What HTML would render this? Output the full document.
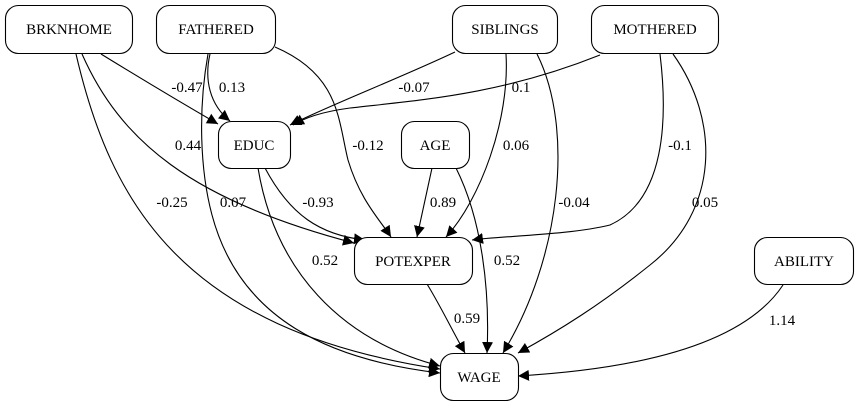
<!DOCTYPE html>
<html><head><meta charset="utf-8"><style>
html,body{margin:0;padding:0;background:#fff;}
svg{display:block}
.t{font-family:"Liberation Serif","Times New Roman",Times,"DejaVu Serif",serif;font-size:15px;}
</style></head><body>
<svg width="859" height="407" viewBox="0 0 859 407" xmlns="http://www.w3.org/2000/svg">
<defs><marker id="a" viewBox="0 0 10 10" refX="10" refY="5" markerWidth="11" markerHeight="11" markerUnits="userSpaceOnUse" orient="auto"><path d="M0,0L10,5L0,10z" fill="#000"/></marker></defs>
<g fill="none" stroke="#000" stroke-width="1.1" marker-end="url(#a)">
<path d="M101,54 C140,78 180,102 218,124"/>
<path d="M210,54 C204,80 210,105 230,121"/>
<path d="M82,54 C120,140 190,200 354,243"/>
<path d="M76,54 C110,200 180,330 440,369"/>
<path d="M208,54 C198,110 200,170 212,215 C240,320 330,360 440,373"/>
<path d="M275,47 C340,75 338,120 348,160 C360,200 380,220 391,237"/>
<path d="M455,52 C400,78 330,105 290,125"/>
<path d="M600,55 C500,95 420,100 350,108 C320,112 305,118 293,125"/>
<path d="M506,54 C510,120 480,200 446,237"/>
<path d="M537,54 C575,130 560,260 503,353"/>
<path d="M660,54 C668,120 665,200 610,225 C570,235 500,236 472,240"/>
<path d="M673,54 C720,120 720,210 650,265 C600,305 560,330 518,353"/>
<path d="M265,168 C290,215 320,235 365,240"/>
<path d="M258,168 C275,270 340,340 440,366"/>
<path d="M432,168 C427,190 422,215 417,237"/>
<path d="M456,168 C482,220 490,290 487,353"/>
<path d="M427,284 C440,305 452,330 465,353"/>
<path d="M783,285 C740,350 620,370 518,376"/>
</g>
<g fill="#fff" stroke="#000" stroke-width="1.1">
<rect x="5.5" y="5.5" width="127" height="48" rx="13"/>
<rect x="156.5" y="5.5" width="119" height="48" rx="13"/>
<rect x="452.5" y="5.5" width="105" height="48" rx="13"/>
<rect x="591.5" y="5.5" width="127" height="48" rx="13"/>
<rect x="218.5" y="121.5" width="72" height="47" rx="13"/>
<rect x="401.5" y="121.5" width="68" height="47" rx="13"/>
<rect x="354.5" y="237.5" width="118" height="47" rx="13"/>
<rect x="754.5" y="237.5" width="99" height="47" rx="13"/>
<rect x="440.5" y="353.5" width="78" height="47" rx="13"/>
</g>
<g class="t" text-anchor="middle" fill="#000">
<text x="69" y="34">BRKNHOME</text>
<text x="216" y="34">FATHERED</text>
<text x="505" y="34">SIBLINGS</text>
<text x="655" y="34">MOTHERED</text>
<text x="254" y="150">EDUC</text>
<text x="435" y="150">AGE</text>
<text x="413" y="266">POTEXPER</text>
<text x="804" y="266">ABILITY</text>
<text x="479" y="382">WAGE</text>
<text x="187" y="92">-0.47</text>
<text x="232" y="92">0.13</text>
<text x="188" y="150">0.44</text>
<text x="368" y="150">-0.12</text>
<text x="414" y="92">-0.07</text>
<text x="521" y="92">0.1</text>
<text x="516" y="150">0.06</text>
<text x="680" y="150">-0.1</text>
<text x="172" y="207">-0.25</text>
<text x="233" y="207">0.07</text>
<text x="318" y="207">-0.93</text>
<text x="443" y="207">0.89</text>
<text x="574" y="207">-0.04</text>
<text x="705" y="207">0.05</text>
<text x="325" y="265">0.52</text>
<text x="507" y="265">0.52</text>
<text x="467" y="323">0.59</text>
<text x="782" y="325">1.14</text>
</g>
</svg>
</body></html>
